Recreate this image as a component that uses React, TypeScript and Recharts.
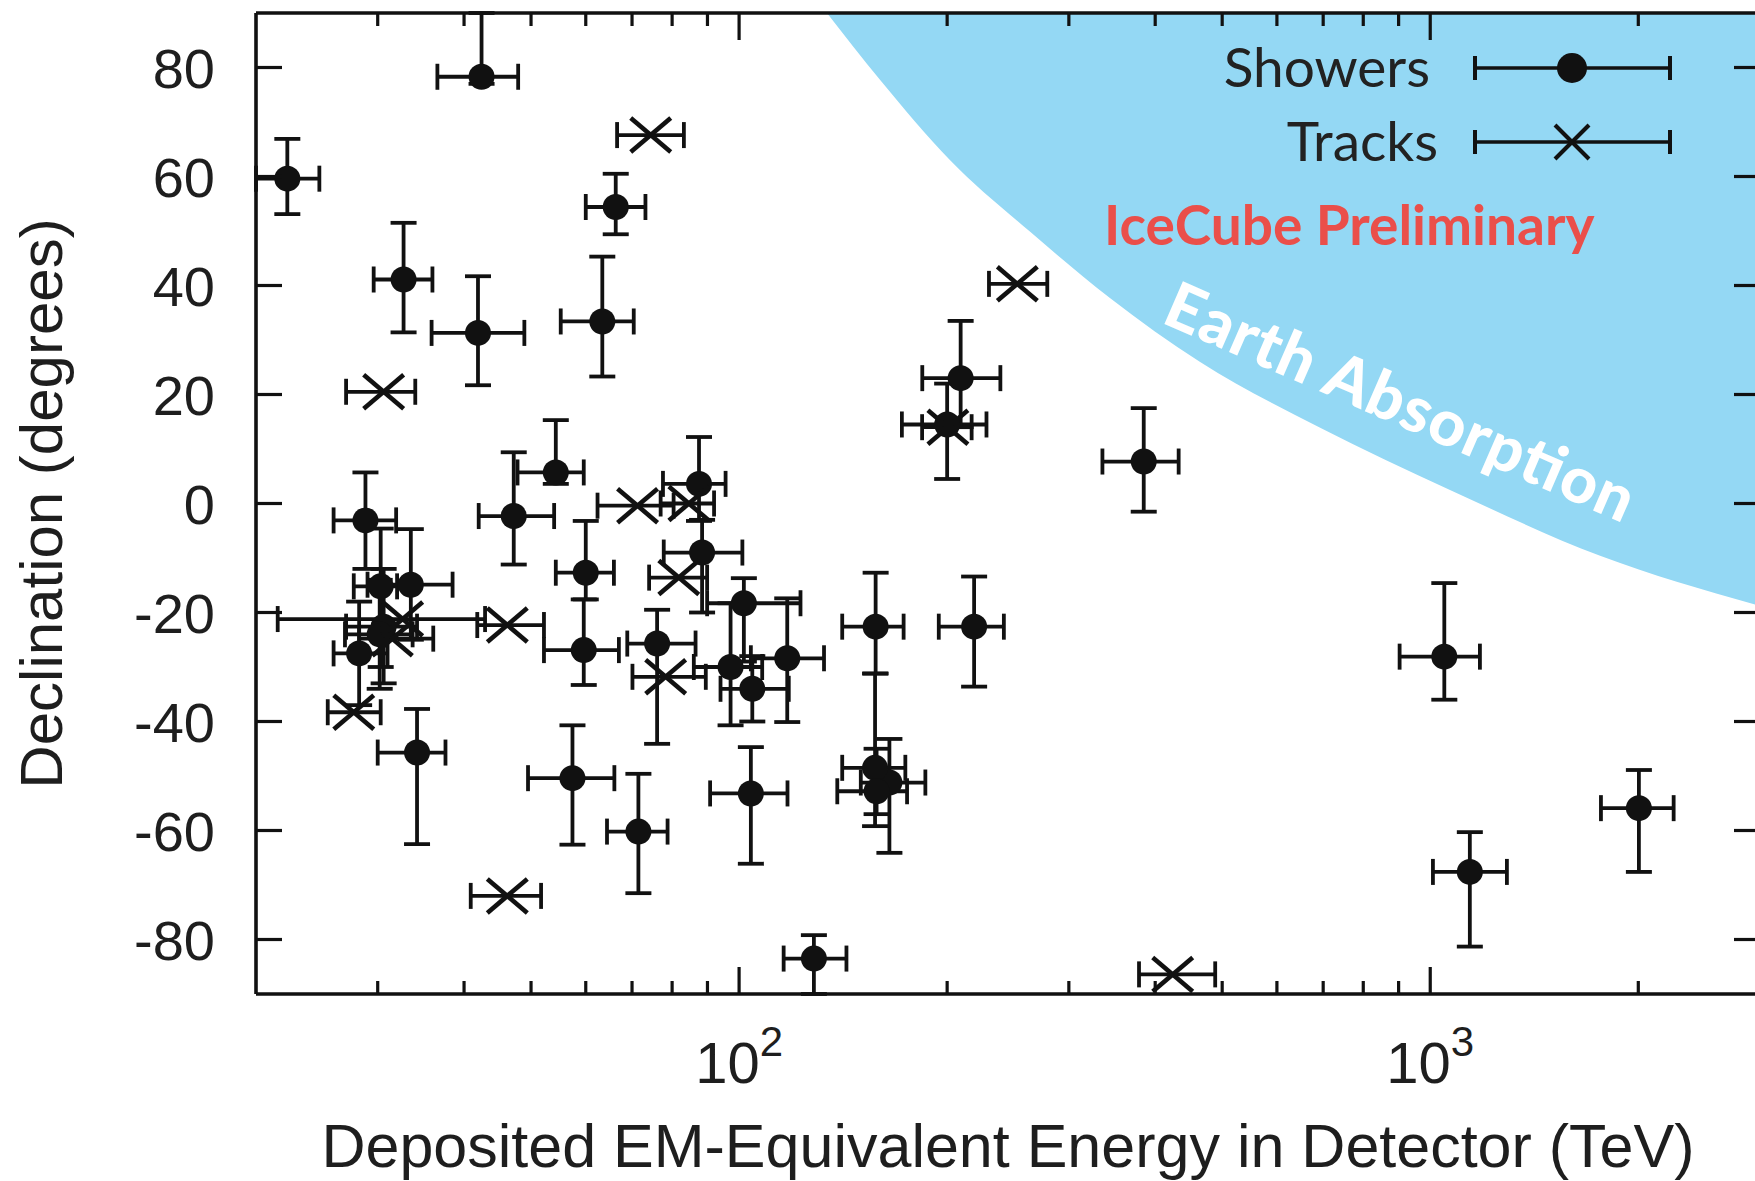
import React from 'react';
import { ComposedChart, Scatter, Area, XAxis, YAxis, ErrorBar, Legend, Label } from 'recharts';

// ---------- data ----------
// Showers (cascade events): energy (TeV), declination (deg), energy range, declination range
const showerE = [47.2, 117.4, 165, 28.2, 34.2, 63.4, 97.2, 88.4, 104, 1048, 57.4, 30.6, 200, 71.5, 1141, 30.2, 218.8, 30.3, 33.5, 209.2, 60.0, 32.7, 128.3, 42.4, 385, 41.9, 2004, 28.8, 101.6, 157.3, 87.5, 76.1, 157.6, 104.5, 59.6, 22.2, 66.3, 158.1, 54.3];
const showerDec = [-2.3, -28.4, -51.2, -27.5, -45.7, 33.4, -30.0, -9.0, -53.2, -28.1, -50.4, -22.6, 14.5, -60.2, -67.6, -24.0, -22.6, -15.2, -14.9, 23.0, -12.7, 41.1, -83.5, 78.3, 7.7, 31.3, -55.9, -3.1, -18.3, -48.5, 3.6, -25.7, -22.6, -34.0, -26.9, 59.6, 54.4, -52.8, 5.7];
const showerELow = [42.0, 104, 150, 25.9, 30.0, 55.2, 86, 77.8, 90.8, 903, 49.5, 27.0, 172, 64.4, 1009, 26.9, 194.5, 27.7, 29.0, 184.1, 54.3, 29.6, 116, 36.6, 335.5, 35.9, 1766, 25.9, 89.9, 141, 77.6, 68.9, 141, 94, 52.2, 20.0, 60.0, 138.7, 47.8];
const showerEHigh = [54.0, 132.7, 186, 31.0, 37.6, 70.4, 108, 101.1, 117.5, 1180, 66.0, 34.2, 228, 78.8, 1291, 33.7, 241.6, 32.0, 38.5, 238.8, 65.9, 36.0, 143, 47.9, 432.5, 48.9, 2250, 31.9, 122.7, 174, 95.6, 86.5, 173, 118, 67.0, 24.7, 73.2, 175, 59.6];
const showerDecLow = [-11.2, -40.1, -64.1, -37, -62.5, 23.3, -40.7, -20, -66.1, -36.0, -62.6, -33, 4.5, -71.5, -81.3, -34, -33.6, -30, -25, 14, -17.6, 31.4, -90, 77, -1.5, 21.7, -67.6, -12, -29, -59.2, -3.2, -44.1, -31.2, -40, -33.3, 53.1, 49.4, -57, 3.6];
const showerDecHigh = [9.4, -17.4, -43.2, -18, -37.7, 45.3, -18.3, -3, -44.7, -14.6, -40.7, -12, 22, -49.6, -60.3, -14, -13.4, -4.6, -4.7, 33.5, -3.2, 51.5, -79.2, 90, 17.5, 41.7, -48.9, 5.7, -13.7, -31.2, 12.2, -19.5, -12.7, -28, -17.6, 66.9, 60.5, -45, 15.3];

// Tracks (muon events): energy (TeV), declination (deg), energy range
const trackE = [78.3, 71.3, 32.6, 252.7, 31.5, 81.8, 46.2, 30.6, 200.5, 46.2, 84.6, 424, 74.5, 27.7];
const trackDec = [-31.8, -0.4, -21.2, 40.3, -24.8, -13.6, -72.0, 20.5, 14.0, -22.3, 0.0, -86.4, 67.6, -38.3];
const trackELow = [70.1, 62.4, 21.5, 229.9, 28.2, 74.1, 40.9, 27.0, 184, 41.8, 77, 379, 66.6, 25.4];
const trackEHigh = [89.5, 80.4, 42.9, 279.2, 36.1, 89.9, 51.7, 34.0, 217, 52.2, 92, 488.5, 83.2, 30.3];

// Earth absorption boundary (energy, declination); region above it is shaded
const boundaryE = [134, 160, 202, 264, 344, 464, 693, 1068, 1761, 3000];
const boundaryDec = [90, 77.7, 63.0, 49.8, 37.7, 26.0, 13.9, 2.5, -9.6, -18.8];

const xTicks = [30, 40, 50, 60, 70, 80, 90, 100, 200, 300, 400, 500, 600, 700, 800, 900, 1000, 2000];
const xMajorTicks = [100, 1000];
const yTicks = [-80, -60, -40, -20, 0, 20, 40, 60, 80];

const xTitle = 'Deposited EM-Equivalent Energy in Detector (TeV)';
const yTitle = 'Declination (degrees)';
const legendItems = ['Showers', 'Tracks'];
const stampText = 'IceCube Preliminary';
const regionText = 'Earth Absorption';

// ---------- tables built for the library ----------
const showers = showerE.map((e, i) => ({
  E: e,
  dec: showerDec[i],
  ex: [e - showerELow[i], showerEHigh[i] - e],
  ey: [showerDec[i] - showerDecLow[i], showerDecHigh[i] - showerDec[i]],
}));
const tracks = trackE.map((e, i) => ({
  E: e,
  dec: trackDec[i],
  ex: [e - trackELow[i], trackEHigh[i] - e],
}));
const boundary = boundaryE.map((e, i) => ({ E: e, band: [boundaryDec[i], 90] }));

// ---------- styles ----------
const INK = '#111';
const TEXT = '#1e1e1e';
const AXIS_FONT = '"Liberation Sans", Arial, Helvetica, sans-serif';
const NOTE_FONT = 'Lato, "Open Sans", sans-serif';
const BLUE = '#94D8F4';
const AXIS_W = 3.6;
const TICK_W = 3.2;
const BAR_W = 3.8;

const LeftTick = (props: any) => {
  const { x, y, payload } = props;
  const gap = 41;
  return (
    <g>
      <line x1={x + gap} x2={x + gap + 26} y1={y} y2={y} stroke={INK} strokeWidth={TICK_W} />
      <text x={x} y={y} dy="0.36em" textAnchor="end" fontSize={56} fontFamily={AXIS_FONT} fill={TEXT}>
        {payload.value}
      </text>
    </g>
  );
};

const RightTick = (props: any) => {
  const { x, y } = props;
  return <line x1={x - 26} x2={x} y1={y} y2={y} stroke={INK} strokeWidth={TICK_W} />;
};

const BottomTick = (props: any) => {
  const { x, y, payload } = props;
  const major = xMajorTicks.includes(payload.value);
  const len = major ? 27 : 13;
  const exp = Math.round(Math.log10(payload.value));
  return (
    <g>
      <line x1={x} x2={x} y1={y} y2={y - len} stroke={INK} strokeWidth={TICK_W} />
      {major && (
        <text x={x} y={y + 89} textAnchor="middle" fontSize={58} fontFamily={AXIS_FONT} fill={TEXT}>
          10
          <tspan dy={-27} fontSize={42}>
            {exp}
          </tspan>
        </text>
      )}
    </g>
  );
};

const TopTick = (props: any) => {
  const { x, y, payload } = props;
  const major = xMajorTicks.includes(payload.value);
  const len = major ? 27 : 13;
  return <line x1={x} x2={x} y1={y} y2={y + len} stroke={INK} strokeWidth={TICK_W} />;
};

const ShowerShape = (props: any) => {
  const { cx, cy } = props;
  return <circle cx={cx} cy={cy} r={13} fill={INK} />;
};

const TrackShape = (props: any) => {
  const { cx, cy } = props;
  const sx = 20;
  const sy = 17;
  return (
    <g stroke={INK} strokeWidth={4.6}>
      <line x1={cx - sx} y1={cy - sy} x2={cx + sx} y2={cy + sy} />
      <line x1={cx - sx} y1={cy + sy} x2={cx + sx} y2={cy - sy} />
    </g>
  );
};

const XTitle = (props: any) => {
  const vb = props.viewBox || { x: 256, y: 994, width: 1504, height: 187 };
  return (
    <text x={vb.x + vb.width / 2} y={vb.y + 173} textAnchor="middle" fontSize={61} fontFamily={AXIS_FONT} fill={TEXT}>
      {xTitle}
    </text>
  );
};

const YTitle = (props: any) => {
  const vb = props.viewBox || { x: 0, y: 13, width: 256, height: 981 };
  const cx = 62;
  const cy = vb.y + vb.height / 2;
  return (
    <text x={cx} y={cy} transform={`rotate(-90 ${cx} ${cy})`} textAnchor="middle" fontSize={60} fontFamily={AXIS_FONT} fill={TEXT}>
      {yTitle}
    </text>
  );
};

const LegendContent = () => {
  const rows = [68, 142];
  const x0 = 1475;
  const x1 = 1670;
  const xm = 1572;
  return (
    <svg width={1755} height={200} style={{ display: 'block' }}>
      {legendItems.map((name, i) => (
        <g key={name}>
          <text
            x={i === 0 ? 1430 : 1438}
            y={rows[i] + 19}
            textAnchor="end"
            fontSize={55}
            fontFamily={NOTE_FONT}
            fill="#222"
          >
            {name}
          </text>
          <line x1={x0} x2={x1} y1={rows[i]} y2={rows[i]} stroke={INK} strokeWidth={3.5} />
          <line x1={x0} x2={x0} y1={rows[i] - 12} y2={rows[i] + 12} stroke={INK} strokeWidth={4} />
          <line x1={x1} x2={x1} y1={rows[i] - 12} y2={rows[i] + 12} stroke={INK} strokeWidth={4} />
          {i === 0 ? (
            <circle cx={xm} cy={rows[i]} r={15} fill={INK} />
          ) : (
            <g stroke={INK} strokeWidth={4}>
              <line x1={xm - 17} y1={rows[i] - 17} x2={xm + 17} y2={rows[i] + 17} />
              <line x1={xm - 17} y1={rows[i] + 17} x2={xm + 17} y2={rows[i] - 17} />
            </g>
          )}
        </g>
      ))}
    </svg>
  );
};

export default function App() {
  return (
    <div
      style={{
        position: 'absolute',
        left: 0,
        top: 0,
        width: 1755,
        height: 1181,
        overflow: 'hidden',
        background: '#fff',
      }}
    >
      <style>{`.recharts-errorBar line, .recharts-errorBars line { stroke-width: ${BAR_W}px; stroke: ${INK}; }`}</style>
      <ComposedChart
        width={1800}
        height={1181}
        data={boundary}
        margin={{ top: 12, right: 39, bottom: 0, left: 0 }}
      >
        <Area
          dataKey="band"
          type="monotone"
          fill={BLUE}
          fillOpacity={1}
          stroke="none"
          isAnimationActive={false}
          dot={false}
          activeDot={false}
        />
        <XAxis
          dataKey="E"
          type="number"
          scale="log"
          domain={[20, 3000]}
          allowDataOverflow
          ticks={xTicks}
          interval={0}
          height={187}
          tickSize={0}
          tickMargin={0}
          tickLine={false}
          tick={<BottomTick />}
          axisLine={{ stroke: INK, strokeWidth: AXIS_W }}
        >
          <Label content={<XTitle />} />
        </XAxis>
        <XAxis
          xAxisId="top"
          orientation="top"
          dataKey="E"
          type="number"
          scale="log"
          domain={[20, 3000]}
          allowDataOverflow
          ticks={xTicks}
          interval={0}
          height={1}
          tickSize={0}
          tickMargin={0}
          tickLine={false}
          tick={<TopTick />}
          axisLine={{ stroke: INK, strokeWidth: AXIS_W }}
        />
        <YAxis
          dataKey="dec"
          type="number"
          domain={[-90, 90]}
          allowDataOverflow
          ticks={yTicks}
          interval={0}
          width={256}
          tickSize={0}
          tickMargin={41}
          tickLine={false}
          tick={<LeftTick />}
          axisLine={{ stroke: INK, strokeWidth: AXIS_W }}
        >
          <Label content={<YTitle />} />
        </YAxis>
        <YAxis
          yAxisId="right"
          orientation="right"
          type="number"
          domain={[-90, 90]}
          allowDataOverflow
          ticks={yTicks}
          interval={0}
          width={1}
          tickSize={0}
          tickMargin={0}
          tickLine={false}
          tick={<RightTick />}
          axisLine={{ stroke: INK, strokeWidth: AXIS_W }}
        />
        <Scatter data={showers} shape={<ShowerShape />} isAnimationActive={false}>
          <ErrorBar dataKey="ex" direction="x" width={13} stroke={INK} strokeWidth={BAR_W} />
          <ErrorBar dataKey="ey" direction="y" width={13} stroke={INK} strokeWidth={BAR_W} />
        </Scatter>
        <Scatter data={tracks} shape={<TrackShape />} isAnimationActive={false}>
          <ErrorBar dataKey="ex" direction="x" width={13} stroke={INK} strokeWidth={BAR_W} />
        </Scatter>
        <Legend
          layout="horizontal"
          verticalAlign="middle"
          align="center"
          wrapperStyle={{ left: 0, top: 0, width: 1755, height: 200 }}
          content={<LegendContent />}
        />
      </ComposedChart>
      <svg
        width={1755}
        height={1181}
        style={{ position: 'absolute', left: 0, top: 0, pointerEvents: 'none' }}
      >
        <text x={1104} y={245} fontSize={55} fontWeight={700} fontFamily={NOTE_FONT} fill="#EA4F4A">
          {stampText}
        </text>
        <text
          x={1160}
          y={322}
          transform="rotate(23.5 1160 322)"
          fontSize={64}
          fontWeight={900}
          fontFamily={NOTE_FONT}
          fill="#fff"
          textLength={505}
          lengthAdjust="spacing"
        >
          {regionText}
        </text>
      </svg>
    </div>
  );
}
